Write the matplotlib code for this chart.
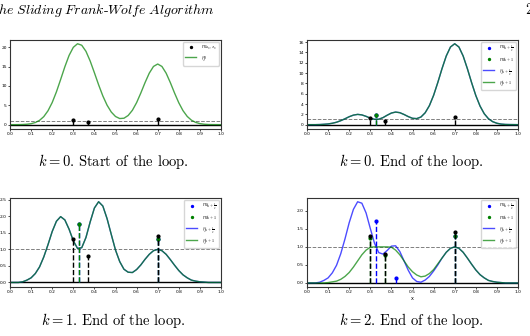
import matplotlib
matplotlib.use("Agg")
import matplotlib.pyplot as plt
from matplotlib.ticker import MultipleLocator, FormatStrFormatter
import numpy as np

plt.rcParams['mathtext.fontset'] = 'cm'

# sampling grid of the certificates
x = np.linspace(0, 1, 51)

# k=0, start of the loop
eta_0 = [0.00, 0.00, 0.01, 0.04, 0.11, 0.25, 0.55, 1.11, 2.07, 3.58,
         5.72, 8.48, 11.68, 14.97, 17.90, 19.99, 20.92, 20.53, 18.96, 16.45,
         13.42, 10.30, 7.42, 5.04, 3.26, 2.11, 1.58, 1.66, 2.37, 3.71,
         5.69, 8.18, 10.87, 13.31, 15.05, 15.68, 15.05, 13.31, 10.86, 8.16,
         5.65, 3.61, 2.12, 1.15, 0.58, 0.27, 0.11, 0.04, 0.02, 0.01, 0.00]

# k=0, end of the loop (eta_{k+1/2} == eta_{k+1})
eta_k0 = [0.00, 0.00, 0.00, 0.02, 0.07, 0.14, 0.27, 0.47, 0.77, 1.14,
          1.54, 1.85, 1.99, 1.89, 1.61, 1.26, 1.03, 1.05, 1.36, 1.83,
          2.25, 2.44, 2.32, 1.97, 1.56, 1.23, 1.17, 1.48, 2.30, 3.68,
          5.68, 8.18, 10.87, 13.31, 15.05, 15.68, 15.05, 13.31, 10.86, 8.16,
          5.65, 3.61, 2.12, 1.15, 0.58, 0.27, 0.11, 0.04, 0.02, 0.01, 0.00]

# k=1, end of the loop
eta_k1 = [0.00, 0.00, 0.00, 0.02, 0.07, 0.14, 0.27, 0.47, 0.77, 1.14,
          1.54, 1.85, 1.99, 1.89, 1.61, 1.26, 1.03, 1.05, 1.36, 1.83,
          2.25, 2.44, 2.31, 1.93, 1.45, 0.98, 0.63, 0.40, 0.31, 0.30,
          0.39, 0.53, 0.70, 0.85, 0.96, 1.00, 0.96, 0.85, 0.69, 0.52,
          0.36, 0.23, 0.14, 0.07, 0.04, 0.02, 0.01, 0.00, 0.00, 0.00, 0.00]

# k=2, end of the loop
eta_k2_half = [0.00, 0.00, 0.00, 0.02, 0.07, 0.14, 0.28, 0.49, 0.81, 1.22,
               1.67, 2.04, 2.25, 2.21, 1.94, 1.51, 1.10, 0.84, 0.80, 0.90,
               1.02, 1.03, 0.87, 0.61, 0.35, 0.14, 0.04, 0.02, 0.08, 0.18,
               0.33, 0.50, 0.69, 0.85, 0.96, 1.00, 0.96, 0.85, 0.69, 0.52,
               0.36, 0.23, 0.14, 0.07, 0.04, 0.02, 0.01, 0.00, 0.00, 0.00, 0.00]
eta_k2 = [0.00, 0.00, 0.00, 0.00, 0.00, 0.01, 0.03, 0.05, 0.10, 0.18,
          0.29, 0.44, 0.61, 0.78, 0.91, 0.99, 1.00, 1.00, 1.00, 1.00,
          0.99, 0.91, 0.78, 0.61, 0.44, 0.31, 0.22, 0.17, 0.19, 0.26,
          0.37, 0.53, 0.69, 0.85, 0.96, 1.00, 0.96, 0.85, 0.69, 0.52,
          0.36, 0.23, 0.14, 0.07, 0.04, 0.02, 0.01, 0.00, 0.00, 0.00, 0.00]

# spikes
true_x = [0.3, 0.37, 0.7]
true_a = [1.3, 0.8, 1.4]
k0_half_x, k0_half_a = [0.325], [1.78]
k0_x, k0_a = [0.325], [1.78]
k1_half_x, k1_half_a = [0.325, 0.7], [1.78, 1.31]
k1_x, k1_a = [0.325, 0.7], [1.78, 1.31]
k2_half_x, k2_half_a = [0.325, 0.42, 0.7], [1.72, 0.15, 1.31]
k2_x, k2_a = [0.3, 0.37, 0.7], [1.25, 0.77, 1.31]

captions = [r'$k = 0$. Start of the loop.', r'$k = 0$. End of the loop.',
            r'$k = 1$. End of the loop.', r'$k = 2$. End of the loop.']

W, H = 530, 336
fig = plt.figure(figsize=(W / 100, H / 100), dpi=100)


def box(l, t, r, b):
    return [l / W, 1 - b / H, (r - l) / W, (b - t) / H]


def stems(ax, xs, a, c):
    ax.vlines(xs, 0, a, colors=c, linestyles='dashed', lw=1.0)
    m, = ax.plot(xs, a, 'o', color=c, ms=2, lw=0)
    return m


def setup(ax, ystep):
    ax.axhline(0, color='k', lw=1.0, zorder=1)
    ax.axhline(1, color='gray', ls='--', lw=0.7, zorder=1)
    ax.set_xlim(0, 1)
    ax.xaxis.set_major_locator(MultipleLocator(0.1))
    ax.xaxis.set_major_formatter(FormatStrFormatter('%.1f'))
    ax.yaxis.set_major_locator(MultipleLocator(ystep))
    ax.yaxis.set_major_formatter(FormatStrFormatter('%g' if ystep >= 1 else '%.1f'))
    ax.tick_params(labelsize=3.2, length=1.5, width=0.5, pad=0.8)
    for s in ax.spines.values():
        s.set_linewidth(0.8)
        s.set_color('#333333')


lab_half = [r'$m_{k+\frac{1}{2}}$', r'$m_{k+1}$', r'$\eta_{k+\frac{1}{2}}$', r'$\eta_{k+1}$']

# top left
ax = fig.add_axes(box(10, 39.7, 221, 128.7))
setup(ax, 5)
l0, = ax.plot(x, eta_0, color='g', alpha=0.7, lw=1.0)
mt = stems(ax, true_x, true_a, 'k')
ax.legend([mt, l0], [r'$m_{a_0,x_0}$', r'$\eta_0$'], loc='upper right',
          fontsize=4, borderaxespad=0.4, numpoints=1, markerscale=0.7)

# the three other panels
others = [
    (box(307, 39.7, 518, 128.7), 2, eta_k0, eta_k0, k0_half_x, k0_half_a, k0_x, k0_a),
    (box(10, 197.7, 221, 286.5), 0.5, eta_k1, eta_k1, k1_half_x, k1_half_a, k1_x, k1_a),
    (box(307, 197.7, 518, 287), 0.5, eta_k2_half, eta_k2, k2_half_x, k2_half_a, k2_x, k2_a),
]
for i, (b, ystep, eh, e, hx, ha, kx, ka) in enumerate(others):
    ax = fig.add_axes(b)
    setup(ax, ystep)
    lb, = ax.plot(x, eh, color='b', alpha=0.7, lw=1.0)
    lg, = ax.plot(x, e, color='g', alpha=0.7, lw=1.0)
    mb = stems(ax, hx, ha, 'b')
    mg = stems(ax, kx, ka, 'g')
    stems(ax, true_x, true_a, 'k')
    ax.legend([mb, mg, lb, lg], lab_half, loc='upper right',
              fontsize=4, borderaxespad=0.4, numpoints=1, markerscale=0.7)
    if i == 2:
        ax.set_xlabel('x', fontsize=3.5, labelpad=1)

# captions and page header
for cap, (cx, cy) in zip(captions, [(113, 166), (411, 166), (113, 325), (411, 325)]):
    fig.text(cx / W, 1 - cy / H, cap, family='cmr10', fontsize=10.5,
             ha='center', va='baseline')
fig.text(-2 / W, 1 - 14 / H, r'$\mathit{he\ Sliding\ Frank}$-$\mathit{Wolfe\ Algorithm}$',
         family='cmr10', fontsize=10, ha='left', va='baseline')
fig.text(525 / W, 1 - 14 / H, '2', family='cmr10', fontsize=10.5, ha='left', va='baseline')

fig.savefig('out.png', dpi=100)
